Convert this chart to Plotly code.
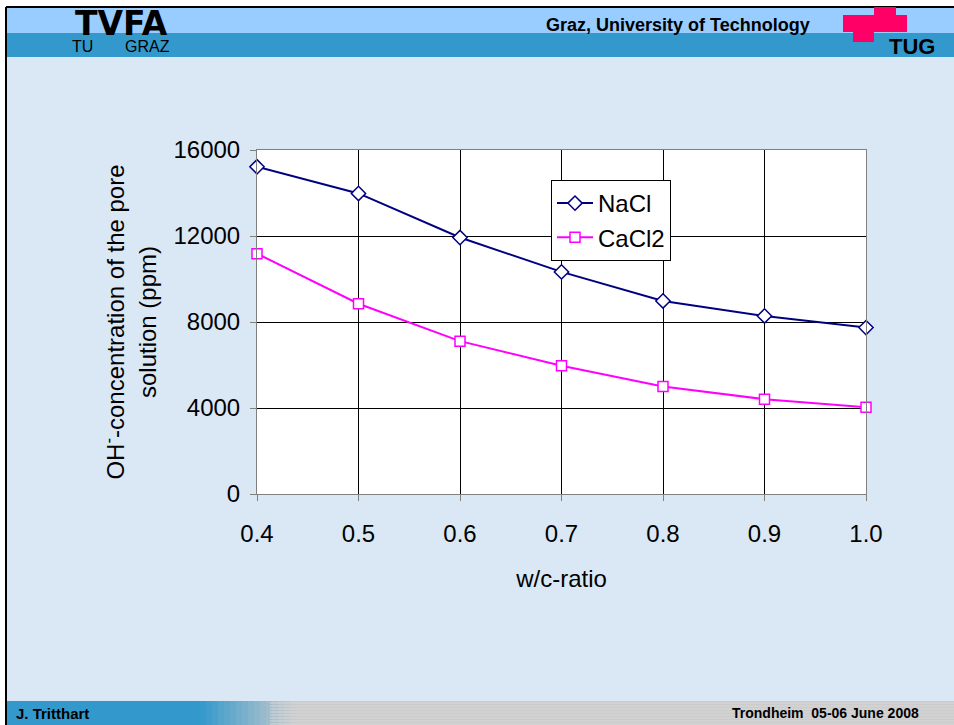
import plotly.graph_objects as go

# ---- data ----
wc_ratio = [0.4, 0.5, 0.6, 0.7, 0.8, 0.9, 1.0]
nacl = [15220, 13980, 11930, 10330, 8980, 8280, 7740]
cacl2 = [11180, 8850, 7110, 5970, 5000, 4410, 4040]
y_ticks = [0, 4000, 8000, 12000, 16000]
x_ticks = [0.4, 0.5, 0.6, 0.7, 0.8, 0.9, 1.0]

W, H = 954, 725
L, R, T, B = 257, 88, 150, 231
PW, PH = W - L - R, H - T - B


def px(x):
    return (x - L) / PW


def py(y):
    return (H - B - y) / PH


FONT = "Liberation Sans, Arial, sans-serif"

fig = go.Figure()
fig.add_trace(go.Scatter(
    x=wc_ratio, y=nacl, name="NaCl", mode="lines+markers",
    line=dict(color="#000080", width=2),
    marker=dict(symbol="diamond", size=11, color="white",
                line=dict(color="#000080", width=1.5)),
    cliponaxis=False))
fig.add_trace(go.Scatter(
    x=wc_ratio, y=cacl2, name="CaCl2", mode="lines+markers",
    line=dict(color="#FF00FF", width=2),
    marker=dict(symbol="square", size=10, color="white",
                line=dict(color="#FF00FF", width=1.5)),
    cliponaxis=False))

shapes = []


def rect(x0, y0, x1, y1, color):
    shapes.append(dict(type="rect", xref="paper", yref="paper",
                       x0=px(x0), x1=px(x1), y0=py(y0), y1=py(y1),
                       fillcolor=color, line=dict(width=0), layer="below"))


# slide background pieces
rect(0, 0, W, 7, "white")
rect(0, 0, 6, H, "white")
rect(6, 7, W, 33, "#99CCFF")
rect(6, 33, W, 57, "#3399CC")
# footer gradient (blue -> gray)
rect(6, 701, 200, H, "#3399CC")
c0 = (0x33, 0x99, 0xCC)
c1 = (0xCC, 0xCC, 0xCC)
steps = 16
for i in range(steps):
    t = (i + 0.5) / steps
    c = tuple(int(c0[k] + (c1[k] - c0[k]) * t) for k in range(3))
    rect(200 + i * 6, 701, 200 + (i + 1) * 6 + 0.5, H, "rgb(%d,%d,%d)" % c)
rect(296, 701, W, H, "#CCCCCC")
for yy in range(703, H, 3):
    shapes.append(dict(type="line", xref="paper", yref="paper",
                       x0=px(270), x1=px(W), y0=py(yy), y1=py(yy),
                       line=dict(color="#D8D8D8", width=1), layer="below"))
# black borders
shapes.append(dict(type="line", xref="paper", yref="paper",
                   x0=px(6), x1=px(W), y0=py(7), y1=py(7),
                   line=dict(color="black", width=2), layer="below"))
shapes.append(dict(type="line", xref="paper", yref="paper",
                   x0=px(6), x1=px(6), y0=py(7), y1=py(H),
                   line=dict(color="black", width=2), layer="below"))
# TUG logo cross
rect(874, 7, 896, 15, "#FF0066")
rect(843, 15, 907, 32, "#FF0066")
rect(853, 32, 874, 42, "#FF0066")

annotations = [
    dict(text="<b>TVFA</b>", x=px(121), y=py(23), xref="paper", yref="paper",
         showarrow=False, font=dict(family="DejaVu Sans", size=33, color="black"),
         xanchor="center", yanchor="middle"),
    dict(text="TU", x=px(82), y=py(47), xref="paper", yref="paper",
         showarrow=False, font=dict(family=FONT, size=16, color="black"),
         xanchor="center", yanchor="middle"),
    dict(text="GRAZ", x=px(147), y=py(47), xref="paper", yref="paper",
         showarrow=False, font=dict(family=FONT, size=16, color="black"),
         xanchor="center", yanchor="middle"),
    dict(text="<b>Graz, University of Technology</b>", x=px(812), y=py(25),
         xref="paper", yref="paper", showarrow=False,
         font=dict(family=FONT, size=18, color="black"),
         xanchor="right", yanchor="middle"),
    dict(text="<b>TUG</b>", x=px(912), y=py(47), xref="paper", yref="paper",
         showarrow=False, font=dict(family=FONT, size=22, color="black"),
         xanchor="center", yanchor="middle"),
    dict(text="<b>J. Tritthart</b>", x=px(14), y=py(713), xref="paper",
         yref="paper", showarrow=False,
         font=dict(family=FONT, size=15, color="black"),
         xanchor="left", yanchor="middle"),
    dict(text="<b>Trondheim  05-06 June 2008</b>", x=px(921), y=py(713),
         xref="paper", yref="paper", showarrow=False,
         font=dict(family=FONT, size=14, color="black"),
         xanchor="right", yanchor="middle"),
]

fig.update_layout(
    width=W, height=H,
    margin=dict(l=L, r=R, t=T, b=B, pad=0),
    paper_bgcolor="#DAE8F6",
    plot_bgcolor="white",
    font=dict(family=FONT, size=24, color="black"),
    shapes=shapes,
    annotations=annotations,
    showlegend=True,
    legend=dict(x=px(551), y=py(180), xanchor="left", yanchor="top",
                bgcolor="white", bordercolor="black", borderwidth=1,
                font=dict(family=FONT, size=24, color="black"),
                itemwidth=36, tracegroupgap=0),
    xaxis=dict(range=[0.4, 1.0], tickvals=x_ticks,
               ticktext=["%.1f" % v for v in x_ticks],
               showgrid=True, gridcolor="black", gridwidth=1,
               showline=True, linecolor="#808080", linewidth=1, mirror=True,
               ticks="outside", ticklen=6, tickcolor="#808080",
               zeroline=False, ticklabelstandoff=12,
               tickfont=dict(size=24),
               title=dict(text="w/c-ratio", font=dict(size=24), standoff=24)),
    yaxis=dict(range=[0, 16000], tickvals=y_ticks,
               ticktext=[str(v) for v in y_ticks],
               showgrid=True, gridcolor="black", gridwidth=1,
               showline=True, linecolor="#808080", linewidth=1, mirror=True,
               ticks="outside", ticklen=6, tickcolor="#808080",
               zeroline=False, ticklabelstandoff=5,
               tickfont=dict(size=24),
               title=dict(text="OH<sup>-</sup>-concentration of the pore<br>solution (ppm)",
                          font=dict(size=24), standoff=10)),
)

fig.write_html("out.html", config={"displayModeBar": False},
               post_script="document.body.style.margin='0';document.body.style.overflow='hidden';")
